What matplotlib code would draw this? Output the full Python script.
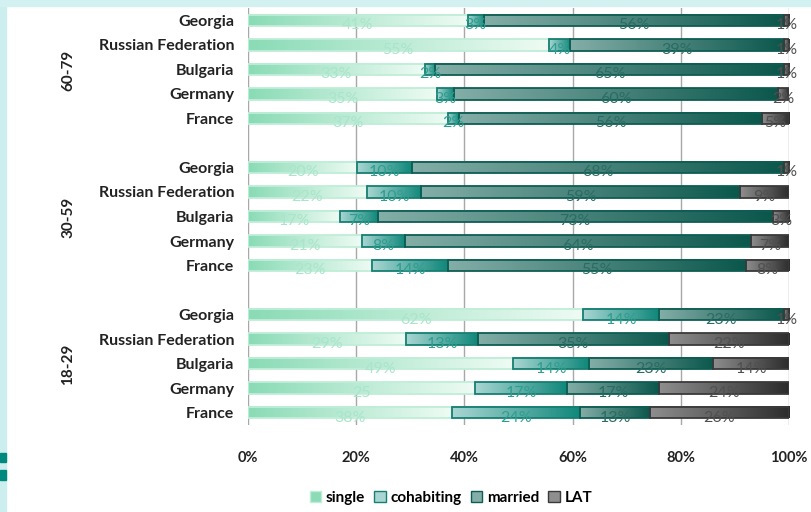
#Living arrangements by age group and country, 100% stacked bars
import matplotlib.pyplot as plt
import numpy as np
from matplotlib.colors import LinearSegmentedColormap
from matplotlib.patches import Rectangle, Patch

plt.rcParams['font.family'] = ['Lato', 'DejaVu Sans']

age_groups = ['60-79', '30-59', '18-29']
countries = ['Georgia', 'Russian Federation', 'Bulgaria', 'Germany', 'France']
categories = ['single', 'cohabiting', 'married', 'LAT']

#shares in %, one row per age group, countries in the order above
single = [[41, 55, 33, 35, 37], [20, 22, 17, 21, 23], [62, 29, 49, 42, 38]]
cohabiting = [[3, 4, 2, 3, 2], [10, 10, 7, 8, 14], [14, 13, 14, 17, 24]]
married = [[56, 39, 65, 60, 56], [68, 59, 73, 64, 55], [23, 35, 23, 17, 13]]
lat = [[1, 1, 1, 2, 5], [1, 9, 3, 7, 8], [1, 22, 14, 24, 26]]
xticks = [0, 20, 40, 60, 80, 100]

#hand typed label on the 18-29 Germany single bar
label_text = {(2, 3, 0): '25'}

#gradient (left, right), border and label colour per category
grad = [('#8adbb6', '#eefbf4'), ('#a9d6d3', '#10877a'),
        ('#84aea8', '#0b574c'), ('#8e8e8e', '#2c2c2c')]
edge = ['#bfeed8', '#157f71', '#0e5d52', '#3a3a3a']
txtcol = ['#a9e5ca', '#2f9e90', '#2a6c63', '#505050']

fig = plt.figure(figsize=(8.12, 5.12), dpi=100, facecolor='white')
#cyan frame strips on the left and top edge
fig.patches.append(Rectangle((0, 0), 6/812, 1, transform=fig.transFigure, color='#cdeeee', zorder=0))
fig.patches.append(Rectangle((0, 1-6/512), 1, 6/512, transform=fig.transFigure, color='#d3f1f1', zorder=0))
fig.patches.append(Rectangle((0, 1-462/512), 6/812, 9/512, transform=fig.transFigure, color='#00897e', zorder=1))
fig.patches.append(Rectangle((0, 1-480/512), 6/812, 10/512, transform=fig.transFigure, color='#00897e', zorder=1))

ax = fig.add_axes([248/812, 1-425/512, 541/812, 417/512])

data = np.array([single, cohabiting, married, lat], dtype=float)
totals = data.sum(axis=0)
shares = data/totals*100
h = 0.47
ramp = np.linspace(0, 1, 256).reshape(1, -1)

for g in range(len(age_groups)):
    for c in range(len(countries)):
        y = g*6 + c
        left = 0
        for k in range(len(categories)):
            w = shares[k, g, c]
            cmap = LinearSegmentedColormap.from_list('g', grad[k])
            ax.imshow(ramp, cmap=cmap, extent=(left, left+w, y+h/2, y-h/2),
                      aspect='auto', zorder=2, interpolation='bilinear')
            ax.barh(y, w, left=left, height=h, facecolor='none',
                    edgecolor=edge[k], linewidth=1.3, zorder=3)
            txt = label_text.get((g, c, k), '%d%%' % data[k, g, c])
            ax.text(left+w/2, y+0.2, txt, ha='center', va='center',
                    fontsize=11.5, color=txtcol[k], zorder=4)
            left += w

ax.set_xlim(0, 100)
ax.set_ylim(16.5, -0.5)
ax.set_xticks(xticks)
ax.set_xticklabels(['%d%%' % t for t in xticks], fontsize=10.5, fontweight='bold', color='#222222')
ax.tick_params(axis='x', length=0, pad=19)
ax.set_yticks([g*6 + c for g in range(3) for c in range(5)])
ax.set_yticklabels(countries*3, fontsize=11.5, fontweight='bold', color='#222222')
ax.tick_params(axis='y', length=0, pad=10)
for s in ax.spines.values():
    s.set_visible(False)
ax.grid(axis='x', color='#a8a8a8', linewidth=1, zorder=0)
ax.set_axisbelow(True)

#age group labels
for g, name in enumerate(age_groups):
    fig.text(68/812, 1-(21+24.5*(g*6+2))/512, name, rotation=90, ha='center', va='center',
             fontsize=11, fontweight='bold', color='#222222')

handles = [Patch(facecolor=grad[k][0], edgecolor=edge[k]) for k in range(4)]
fig.legend(handles, categories, loc='center', bbox_to_anchor=(451/812, 1-498/512), ncol=4,
           frameon=False, prop={'size': 11, 'weight': 'bold'}, handlelength=0.75,
           handleheight=0.75, handletextpad=0.3, columnspacing=0.6)

fig.savefig('out.png', dpi=100, facecolor=fig.get_facecolor())
